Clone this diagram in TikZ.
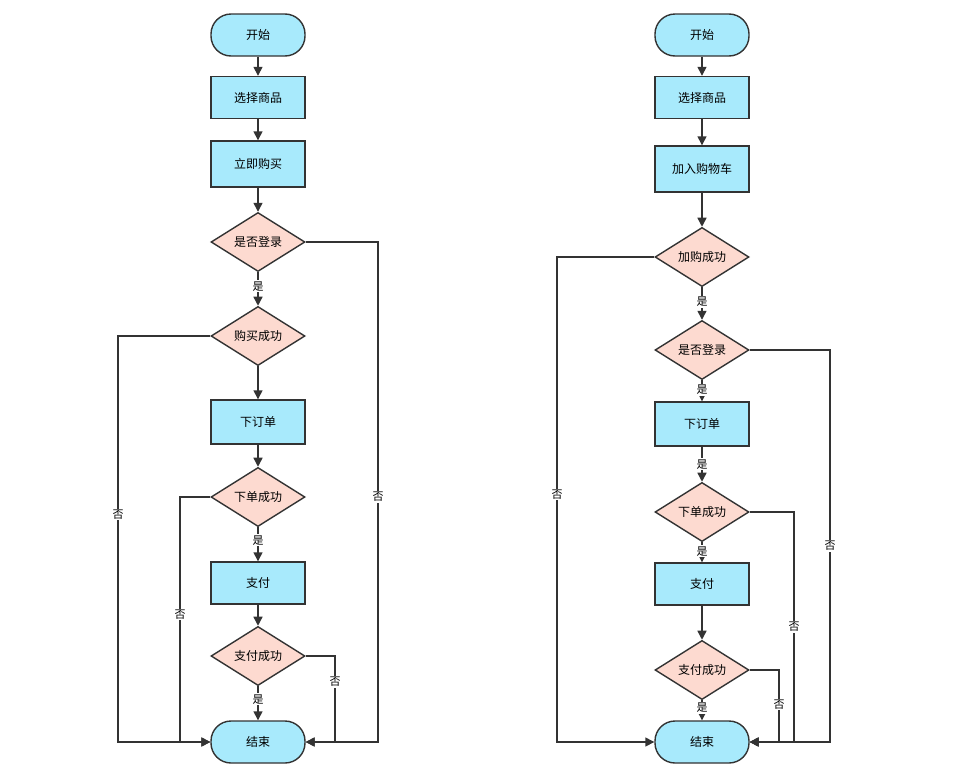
\documentclass[tikz,border=0pt]{standalone}
\usepackage{fontspec}
\setmainfont{Noto Sans CJK SC}
\usetikzlibrary{shapes.geometric,arrows.meta}
\definecolor{boxblue}{RGB}{168,234,252}
\definecolor{decpink}{RGB}{253,218,208}
\definecolor{edgegray}{RGB}{51,51,51}
\begin{document}
\begin{tikzpicture}[x=1pt,y=-1pt,font=\fontsize{12}{14}\selectfont,
  term/.style={draw=edgegray,line width=1.4pt,fill=boxblue,rounded corners=20pt,minimum width=94pt,minimum height=42pt,inner sep=0pt},
  proc/.style={draw=edgegray,line width=1.4pt,fill=boxblue,minimum width=94pt,minimum height=42pt,inner sep=0pt},
  dec/.style={diamond,draw=edgegray,line width=1.4pt,fill=decpink,minimum width=94pt,minimum height=55pt,inner sep=0pt},
  arr/.style={draw=edgegray,line width=1.4pt,-{Triangle[length=9pt,width=9pt]}},
  lbl/.style={fill=white,inner sep=1pt,font=\fontsize{11}{12}\selectfont}]
\useasboundingbox (0,0) rectangle (954,766);
% left chart: buy now
\node[term] (s1) at (258,35) {开始};
\node[proc] (p1) at (258,97.5) {选择商品};
\node[proc,minimum height=46pt] (p2) at (258,164) {立即购买};
\node[dec] (d1) at (258,242) {是否登录};
\node[dec] (d2) at (258,336) {购买成功};
\node[proc,minimum height=44pt] (p3) at (258,422) {下订单};
\node[dec] (d3) at (258,497) {下单成功};
\node[proc] (p4) at (258,583) {支付};
\node[dec] (d4) at (258,656) {支付成功};
\node[term] (e1) at (258,742) {结束};
\coordinate (la) at (118,742);
\coordinate (lb) at (180,742);
\coordinate (ra) at (335,742);
\coordinate (rb) at (378,742);
\draw[arr] (s1) -- (p1);
\draw[arr] (p1) -- (p2);
\draw[arr] (p2) -- (d1);
\draw[arr] (d1) -- node[lbl,pos=0.42]{是} (d2);
\draw[arr] (d2) -- (p3);
\draw[arr] (p3) -- (d3);
\draw[arr] (d3) -- node[lbl,pos=0.38]{是} (p4);
\draw[arr] (p4) -- (d4);
\draw[arr] (d4) -- node[lbl,pos=0.38]{是} (e1);
\draw[arr] (d2.west) -| node[lbl,pos=0.72]{否} (la) -- (e1.west);
\draw[arr] (d3.west) -| node[lbl,pos=0.74]{否} (lb) -- (e1.west);
\draw[arr] (d4.east) -| node[lbl,pos=0.65]{否} (ra) -- (e1.east);
\draw[arr] (d1.east) -| node[lbl,pos=0.755]{否} (rb) -- (e1.east);
% right chart: add to cart
\node[term] (s2) at (702,35) {开始};
\node[proc] (q1) at (702,97.5) {选择商品};
\node[proc,minimum height=46pt] (q2) at (702,169) {加入购物车};
\node[dec] (c1) at (702,257) {加购成功};
\node[dec] (c2) at (702,350) {是否登录};
\node[proc,minimum height=44pt] (q3) at (702,424) {下订单};
\node[dec] (c3) at (702,512) {下单成功};
\node[proc] (q4) at (702,584) {支付};
\node[dec] (c4) at (702,670) {支付成功};
\node[term] (e2) at (702,742) {结束};
\coordinate (lc) at (557,742);
\coordinate (rc) at (830,742);
\coordinate (rd) at (794,742);
\coordinate (re) at (779,742);
\draw[arr] (s2) -- (q1);
\draw[arr] (q1) -- (q2);
\draw[arr] (q2) -- (c1);
\draw[arr] (c1) -- node[lbl,pos=0.45]{是} (c2);
\draw[arr] (c2) -- node[lbl,pos=0.45]{是} (q3);
\draw[arr] (q3) -- node[lbl,pos=0.5]{是} (c3);
\draw[arr] (c3) -- node[lbl,pos=0.45]{是} (q4);
\draw[arr] (q4) -- (c4);
\draw[arr] (c4) -- node[lbl,pos=0.38]{是} (e2);
\draw[arr] (c1.west) -| node[lbl,pos=0.745]{否} (lc) -- (e2.west);
\draw[arr] (c2.east) -| node[lbl,pos=0.75]{否} (rc) -- (e2.east);
\draw[arr] (c3.east) -| node[lbl,pos=0.75]{否} (rd) -- (e2.east);
\draw[arr] (c4.east) -| node[lbl,pos=0.74]{否} (re) -- (e2.east);
\end{tikzpicture}
\end{document}
